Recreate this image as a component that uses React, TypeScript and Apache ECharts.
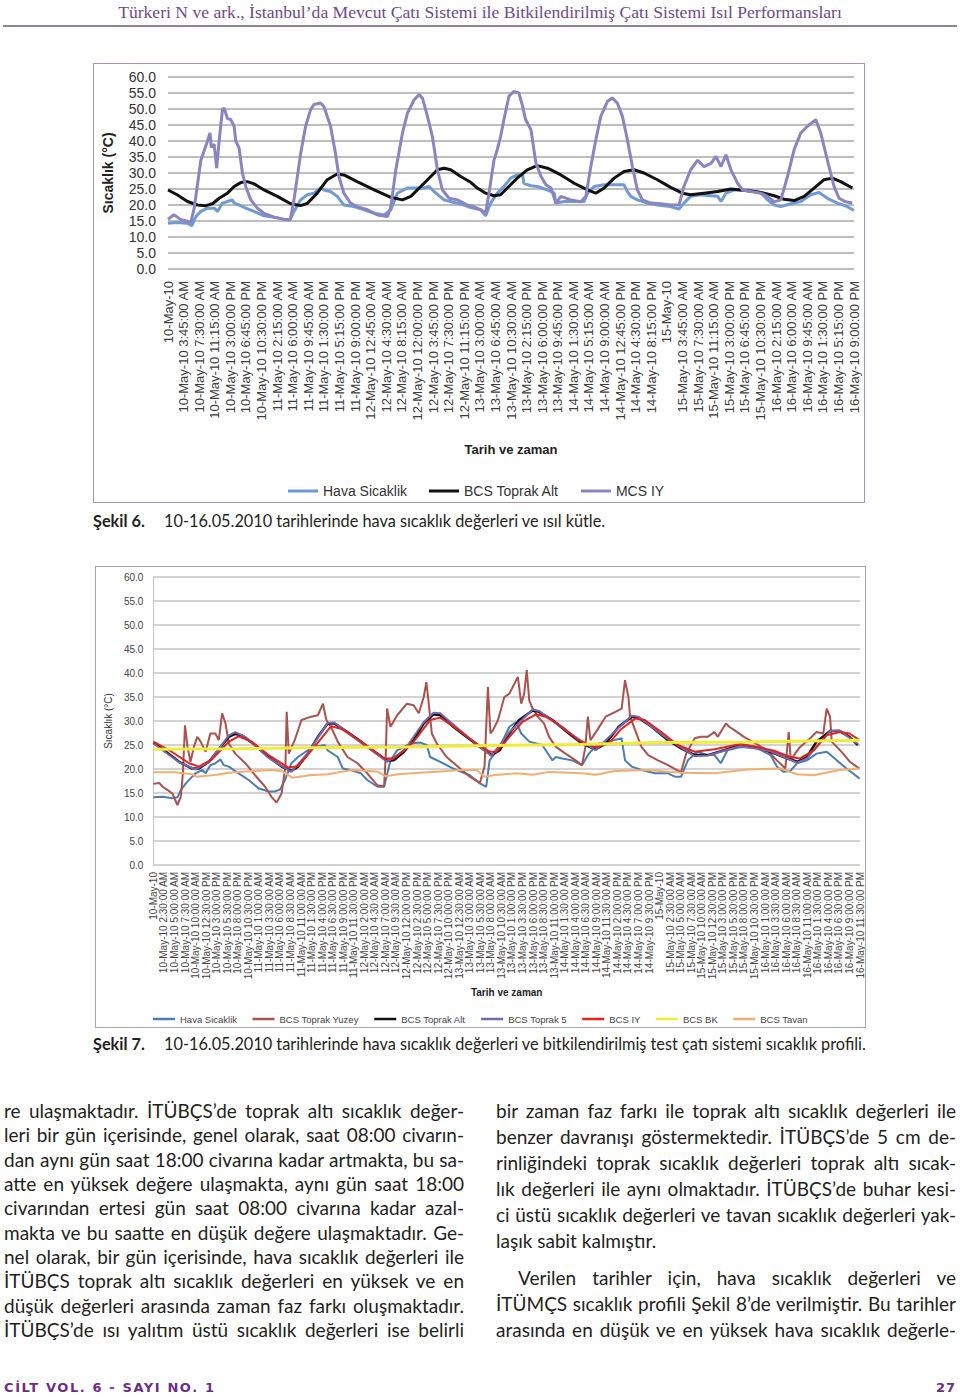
import React, { useEffect, useRef } from "react";
import * as echarts from "echarts";

// ---------- page text ----------
const HEADER_TEXT =
  "Türkeri N ve ark., İstanbul’da Mevcut Çatı Sistemi ile Bitkilendirilmiş Çatı Sistemi Isıl Performansları";
const CAPTION_6_LABEL = "Şekil 6.";
const CAPTION_6_TEXT = "10-16.05.2010 tarihlerinde hava sıcaklık değerleri ve ısıl kütle.";
const CAPTION_7_LABEL = "Şekil 7.";
const CAPTION_7_TEXT =
  "10-16.05.2010 tarihlerinde hava sıcaklık değerleri ve bitkilendirilmiş test çatı sistemi sıcaklık profili.";
const LEFT_LINES = [
  "re ulaşmaktadır. İTÜBÇS’de toprak altı sıcaklık değer-",
  "leri bir gün içerisinde, genel olarak, saat 08:00 civarın-",
  "dan aynı gün saat 18:00 civarına kadar artmakta, bu sa-",
  "atte en yüksek değere ulaşmakta, aynı gün saat 18:00",
  "civarından ertesi gün saat 08:00 civarına kadar azal-",
  "makta ve bu saatte en düşük değere ulaşmaktadır. Ge-",
  "nel olarak, bir gün içerisinde, hava sıcaklık değerleri ile",
  "İTÜBÇS toprak altı sıcaklık değerleri en yüksek ve en",
  "düşük değerleri arasında zaman faz farkı oluşmaktadır.",
  "İTÜBÇS’de ısı yalıtım üstü sıcaklık değerleri ise belirli",
];
const RIGHT_PARA_1 = [
  "bir zaman faz farkı ile toprak altı sıcaklık değerleri ile",
  "benzer davranışı göstermektedir. İTÜBÇS’de 5 cm de-",
  "rinliğindeki toprak sıcaklık değerleri toprak altı sıcak-",
  "lık değerleri ile aynı olmaktadır. İTÜBÇS’de buhar kesi-",
  "ci üstü sıcaklık değerleri ve tavan sıcaklık değerleri yak-",
  "laşık sabit kalmıştır.",
];
const RIGHT_PARA_2 = [
  "Verilen tarihler için, hava sıcaklık değerleri ve",
  "İTÜMÇS sıcaklık profili Şekil 8’de verilmiştir. Bu tarihler",
  "arasında en düşük ve en yüksek hava sıcaklık değerle-",
];
const FOOTER_LEFT = "CİLT VOL. 6 - SAYI NO. 1";
const FOOTER_RIGHT = "27";

// ---------- chart texts ----------
const Y_NAME = "Sıcaklık (°C)";
const X_NAME = "Tarih ve zaman";
const SERIES_6 = ["Hava Sicaklik", "BCS Toprak Alt", "MCS IY"];
const SERIES_7 = [
  "Hava Sicaklik",
  "BCS Toprak Yuzey",
  "BCS Toprak Alt",
  "BCS Toprak 5",
  "BCS IY",
  "BCS BK",
  "BCS Tavan",
];

const TICKS_6 = [
  "10-May-10",
  "10-May-10 3:45:00 AM", "10-May-10 7:30:00 AM", "10-May-10 11:15:00 AM", "10-May-10 3:00:00 PM", "10-May-10 6:45:00 PM", "10-May-10 10:30:00 PM",
  "11-May-10 2:15:00 AM", "11-May-10 6:00:00 AM", "11-May-10 9:45:00 AM", "11-May-10 1:30:00 PM", "11-May-10 5:15:00 PM", "11-May-10 9:00:00 PM",
  "12-May-10 12:45:00 AM", "12-May-10 4:30:00 AM", "12-May-10 8:15:00 AM", "12-May-10 12:00:00 PM", "12-May-10 3:45:00 PM", "12-May-10 7:30:00 PM", "12-May-10 11:15:00 PM",
  "13-May-10 3:00:00 AM", "13-May-10 6:45:00 AM", "13-May-10 10:30:00 AM", "13-May-10 2:15:00 PM", "13-May-10 6:00:00 PM", "13-May-10 9:45:00 PM",
  "14-May-10 1:30:00 AM", "14-May-10 5:15:00 AM", "14-May-10 9:00:00 AM", "14-May-10 12:45:00 PM", "14-May-10 4:30:00 PM", "14-May-10 8:15:00 PM",
  "15-May-10",
  "15-May-10 3:45:00 AM", "15-May-10 7:30:00 AM", "15-May-10 11:15:00 AM", "15-May-10 3:00:00 PM", "15-May-10 6:45:00 PM", "15-May-10 10:30:00 PM",
  "16-May-10 2:15:00 AM", "16-May-10 6:00:00 AM", "16-May-10 9:45:00 AM", "16-May-10 1:30:00 PM", "16-May-10 5:15:00 PM", "16-May-10 9:00:00 PM",
];

const TICKS_7 = [
  "10-May-10", "10-May-10 2:30:00 AM", "10-May-10 5:00:00 AM", "10-May-10 7:30:00 AM", "10-May-10 10:00:00 AM", "10-May-10 12:30:00 PM", "10-May-10 3:00:00 PM", "10-May-10 5:30:00 PM", "10-May-10 8:00:00 PM", "10-May-10 10:30:00 PM",
  "11-May-10 1:00:00 AM", "11-May-10 3:30:00 AM", "11-May-10 6:00:00 AM", "11-May-10 8:30:00 AM", "11-May-10 11:00:00 AM", "11-May-10 1:30:00 PM", "11-May-10 4:00:00 PM", "11-May-10 6:30:00 PM", "11-May-10 9:00:00 PM", "11-May-10 11:30:00 PM",
  "12-May-10 2:00:00 AM", "12-May-10 4:30:00 AM", "12-May-10 7:00:00 AM", "12-May-10 9:30:00 AM", "12-May-10 12:00:00 PM", "12-May-10 2:30:00 PM", "12-May-10 5:00:00 PM", "12-May-10 7:30:00 PM", "12-May-10 10:00:00 PM",
  "13-May-10 12:30:00 AM", "13-May-10 3:00:00 AM", "13-May-10 5:30:00 AM", "13-May-10 8:00:00 AM", "13-May-10 10:30:00 AM", "13-May-10 1:00:00 PM", "13-May-10 3:30:00 PM", "13-May-10 6:00:00 PM", "13-May-10 8:30:00 PM", "13-May-10 11:00:00 PM",
  "14-May-10 1:30:00 AM", "14-May-10 4:00:00 AM", "14-May-10 6:30:00 AM", "14-May-10 9:00:00 AM", "14-May-10 11:30:00 AM", "14-May-10 2:00:00 PM", "14-May-10 4:30:00 PM", "14-May-10 7:00:00 PM", "14-May-10 9:30:00 PM",
  "15-May-10", "15-May-10 2:30:00 AM", "15-May-10 5:00:00 AM", "15-May-10 7:30:00 AM", "15-May-10 10:00:00 AM", "15-May-10 12:30:00 PM", "15-May-10 3:00:00 PM", "15-May-10 5:30:00 PM", "15-May-10 8:00:00 PM", "15-May-10 10:30:00 PM",
  "16-May-10 1:00:00 AM", "16-May-10 3:30:00 AM", "16-May-10 6:00:00 AM", "16-May-10 8:30:00 AM", "16-May-10 11:00:00 AM", "16-May-10 1:30:00 PM", "16-May-10 4:00:00 PM", "16-May-10 6:30:00 PM", "16-May-10 9:00:00 PM", "16-May-10 11:30:00 PM",
];

// hours since 10-May-10 00:00, temperature (°C)
const HOURS_6_MAX = 165;
const HOURS_7_MAX = 167.5;

// ---------- Şekil 6 data ----------
const hava6: [number, number][] = [
  [0, 14.3], [2.2, 14.5], [4.7, 14.3], [5.7, 13.5], [6.7, 16.4], [7.9, 18], [9.5, 19], [11.1, 19], [11.9, 18], [13.1, 20.6], [14.3, 21.1], [15.5, 21.6], [15.9, 20.6], [17.1, 20], [18.7, 19], [20.7, 18], [23.1, 16.6], [25.5, 16.2], [27.9, 15.5], [29.4, 15.5],
  [30.3, 18], [31.9, 21.6], [33.5, 23.2], [35.1, 23.7], [36.7, 25.3], [37.5, 24.7], [39.1, 24.2], [40.7, 22.7], [42.3, 20], [44.7, 19.5], [47.2, 18.5], [49.6, 17.4], [52, 16.9],
  [53.6, 18.5], [55.2, 23.7], [57.6, 25.3], [59.6, 25.3], [61.6, 25.3], [62.8, 25.8], [64, 24.2], [66.4, 21.6], [68.8, 20.8], [71.2, 20], [72.8, 19.2], [75.2, 18.5], [76.4, 16.6],
  [77.6, 20.6], [79.2, 23.7], [80.8, 25.8], [82.4, 28.4], [84, 29.4], [85.3, 29.4], [85.6, 26.8], [87.3, 26], [88.8, 25.8], [91.3, 24.7], [92.9, 23.7], [93.3, 20.6], [95.3, 21.1], [97.7, 21.1], [100.1, 21.1],
  [100.9, 23.7], [102.5, 25.8], [104.9, 26.3], [107.3, 26.3], [109.7, 26.3], [110.5, 24.2], [111.3, 22.7], [112.9, 21.6], [115.3, 20.6], [117.7, 20], [120.9, 19.5], [122.9, 18.7],
  [124.1, 20.6], [125.7, 22.7], [128.1, 23.2], [130.6, 22.9], [132.2, 22.7], [133, 21.1], [134.2, 23.7], [136.2, 24.7], [139.4, 24.7], [142.6, 23.9], [144.2, 21.6], [145.8, 20], [147.4, 19.5],
  [149.8, 20.4], [152.2, 21.1], [154.6, 23.2], [156.6, 23.9], [158.6, 22.1], [161, 20.6], [163.4, 19.5], [165, 18.3],
];

const toprakAlt6: [number, number][] = [
  [0, 24.7], [2.2, 23.2], [4.7, 21.1], [7.1, 20], [9.1, 19.8], [10.7, 20.4], [12.3, 22.1], [14.3, 23.7], [15.9, 25.8], [17.5, 27], [19.1, 27.3], [20.7, 26.6], [23.1, 24.7], [26.3, 22.7], [29.5, 20.4], [31.9, 19.8],
  [33.5, 20.5], [35.9, 23.7], [38.3, 27.9], [40.7, 29.7], [42.3, 29.4], [45.5, 27.3], [49.6, 24.7], [53.6, 22.4], [56.4, 21.6], [58.4, 22.7], [61.6, 26.8], [64.8, 31], [66.4, 31.5], [68, 31], [70.4, 28.9],
  [72.8, 27.1], [74.4, 25.3], [76.4, 23.7], [78.4, 22.9], [80, 23.2], [81.6, 25.3], [84, 28.4], [86.4, 31], [88.8, 32.3], [91.3, 31.5], [94.5, 29.4], [97.7, 26.8], [100.9, 24.7], [102.9, 23.7],
  [104.9, 25.3], [107.3, 28.4], [109.7, 30.5], [112.1, 31], [114.5, 30], [117.7, 27.9], [120.9, 25.5], [123.7, 23.7], [125.7, 23.2], [128.9, 23.7], [132.2, 24.2], [135.4, 25], [137.8, 24.7],
  [141, 24.2], [143.4, 23.7], [145.8, 22.9], [148.2, 21.8], [150.6, 21.4], [153, 22.7], [155.4, 25.3], [157.8, 27.9], [159.8, 28.4], [161.8, 27.3], [164.6, 25.3],
];

const mcsIY6: [number, number][] = [
  [0, 15.5], [1.4, 17], [3, 15.5], [5.5, 14.6], [6.3, 19], [7.9, 34], [9.5, 40], [10.1, 42.5], [10.4, 38], [11.1, 39], [11.7, 31.5], [12.3, 40], [13.1, 49.8], [13.5, 50.3], [14.3, 47], [15.1, 46.7], [15.9, 44.6],
  [16.3, 40], [17.1, 37.8], [17.9, 30], [18.7, 25.8], [19.9, 21.6], [21.5, 19], [23.1, 17.4], [25.5, 16.2], [27.9, 15.5], [29.4, 15.3],
  [30.3, 21.6], [31.9, 36], [33.1, 44.6], [34.3, 49.8], [35.1, 51.4], [36.7, 51.9], [37.5, 50.8], [39.1, 44.6], [40.3, 36], [41.1, 28.9], [42.3, 23.7], [43.9, 20.6], [45.5, 19.5], [48, 18.5], [50.4, 16.9], [52.8, 16.4],
  [53.6, 19.5], [54.8, 31], [56.4, 42.5], [57.6, 48.7], [59.2, 52.9], [60.4, 54.5], [61.2, 53.4], [62.4, 47.7], [63.6, 41.4], [64.8, 31], [66, 24.7], [67.6, 22.1], [69.6, 21.6], [72, 20], [73.5, 19.5], [75.2, 18.5], [76.4, 17.4],
  [77.2, 23.7], [78.4, 34], [79.2, 37.3], [80, 41.4], [80.8, 46.7], [82, 54], [83.2, 55.5], [84.4, 55], [85.3, 50.8], [86, 46.7], [87.3, 43.5], [88.5, 33], [89.7, 29], [90.9, 26.3], [92.1, 25.3], [93.3, 20.6], [94.5, 22.7],
  [96.9, 21.6], [99.3, 21], [100.5, 22.7], [101.7, 32], [102.9, 40.4], [104.1, 47.7], [105.7, 52.4], [106.9, 53.4], [108.1, 51.8], [109.3, 47.7], [110.5, 40.4], [111.7, 32], [112.9, 24.7], [114.1, 21.6], [116.1, 20.6],
  [118.5, 20.4], [120.9, 20], [122.9, 20], [124.1, 25.8], [125.7, 31], [127.4, 34], [128.9, 32], [130.6, 33], [131.8, 35.2], [133, 32], [134.2, 35.7], [135.4, 31], [137, 26.8], [138.2, 24.7], [140.2, 24.2],
  [142.6, 23.7], [144.2, 22.7], [145.8, 21], [147.4, 21.6], [149, 28.9], [150.6, 37.3], [152.2, 42.5], [153.8, 44.6], [155.8, 46.7], [157, 42.5], [158.6, 34], [160.2, 25.8], [161.4, 22.1], [163, 21], [164.6, 20.6],
];

// ---------- Şekil 7 data ----------
const hava7: [number, number][] = [
  [0, 14.1], [2.2, 14.2], [4.5, 13.9], [5.7, 14.1], [6.5, 15.6], [7.7, 17], [9.2, 18.4], [10, 19.1], [11.6, 19.8], [12.4, 19.1], [13.5, 20.8], [14.7, 21.2], [15.9, 22], [16.7, 20.8], [17.9, 20.5], [20.2, 19.1],
  [22.6, 17.7], [24.9, 16], [27.3, 15.3], [28.8, 15.3], [30, 15.7], [31.2, 17.7], [32.7, 21.2], [34.3, 22.5], [36.6, 23.9], [38.2, 24.6], [40.6, 25], [41.3, 23.9], [43.7, 22.5], [44.9, 20.1], [46.8, 19.8],
  [49.2, 19.1], [50.7, 17.7], [53.1, 16.3], [54.7, 16.3], [56.2, 21.8], [57.8, 23.9], [59.4, 24.6], [60.9, 25.3], [63.3, 25.5], [64.8, 25], [65.6, 22.5], [68, 21.5], [71.1, 20.1], [75, 18.7], [77.4, 17],
  [78.9, 16.3], [79.7, 21.8], [82.1, 24.6], [84.4, 28.8], [86, 29.8], [87.2, 27.4], [89.1, 25.7], [92.2, 25], [93, 23.9], [94.6, 21.8], [95.4, 22.5], [96.9, 22.2], [99.3, 21.8], [101.6, 20.8], [103.2, 23.2],
  [105.5, 25.3], [107.9, 25.7], [111, 26.4], [111.8, 21.8], [113.4, 20.5], [115.7, 19.8], [118.9, 19.1], [122, 19.1], [123.6, 18.4], [125.1, 18.4], [126.7, 21.8], [129, 23.6], [131.4, 22.9], [133, 22.9],
  [134.5, 21.2], [136.1, 23.9], [139.2, 24.6], [143.2, 24.3], [146.3, 22.9], [147.8, 20.5], [149.4, 19.4], [151, 19.6], [152.6, 21.2], [154.9, 21.8], [157.2, 23.2], [159.6, 23.6], [162, 21.8], [164.3, 20.1],
  [165.8, 19.1], [167.4, 18],
];

const toprakYuzey7: [number, number][] = [
  [0, 16.9], [1.4, 17.1], [2.2, 16.3], [3.4, 15.6], [4.5, 14.9], [5.7, 12.5], [6.5, 14.2], [7, 19.1], [7.5, 29.1], [8.1, 24.6], [8.8, 21.5], [9.6, 24.6], [10.4, 26.7], [11.2, 25.7], [12.4, 23.6], [13.5, 27.4],
  [14.7, 27.4], [15.5, 26], [16.3, 31.6], [17.1, 29.5], [17.9, 25.3], [19.4, 23.2], [21.8, 21.2], [24.1, 18.7], [26.5, 16.3], [28, 14.2], [29.2, 13], [30.4, 14.9], [31.3, 20.5], [31.6, 31.9], [32.1, 23.2],
  [33.5, 26], [35.1, 30.2], [37.4, 30.9], [39, 31.2], [40.2, 33.6], [41, 30.2], [42.1, 28.8], [43.7, 25.7], [46, 22.5], [48.4, 21.2], [50.7, 19.1], [53.1, 16.6], [54.7, 16.4], [55.1, 23.2], [55.4, 32.6],
  [56.2, 28.8], [57.8, 31.2], [60.1, 33.6], [61.7, 33.3], [62.9, 31.6], [64.1, 35], [64.7, 38.1], [65.2, 34.3], [66, 27.4], [67.2, 25.3], [69.5, 22.5], [72.7, 20.1], [75, 18.4], [77.4, 17.1], [78.5, 20.5],
  [79.3, 37.1], [79.9, 27.4], [80.5, 28.1], [81.7, 30.2], [83.2, 35], [84.4, 35.7], [85.6, 37.8], [86.4, 39.2], [87.2, 33.6], [87.9, 35.7], [88.5, 40.6], [89.1, 34.3], [89.9, 32.6], [91.1, 30.9], [92.6, 29.5],
  [93.8, 26.7], [95.4, 24.6], [97.7, 23.2], [100.1, 21.8], [101.6, 20.8], [102.4, 24.6], [103, 30.9], [103.6, 26], [105.2, 28.1], [107.2, 30.9], [109.5, 31.9], [111, 32.6], [111.8, 38.5], [112.6, 35], [113, 30.9],
  [114.2, 28.1], [115.7, 24.6], [117.3, 22.9], [119.6, 21.8], [122, 20.8], [124, 19.8], [125.1, 19.4], [126.3, 23.2], [128.3, 26.4], [129.8, 26.7], [131.4, 26.7], [133, 27.7], [133.8, 26.7], [135.7, 29.5],
  [136.5, 28.8], [137.7, 28.1], [140, 26.7], [142.4, 25.5], [145.5, 23.9], [147.8, 21.8], [149.8, 20.1], [150.6, 27.7], [151.1, 21.8], [152.1, 23.2], [153.3, 24.6], [155.7, 26.4], [157.2, 27.7], [158.8, 27.4],
  [159.6, 32.6], [160.4, 30.9], [160.8, 25.7], [162, 24.6], [163.5, 23.2], [165.1, 21.5], [166.7, 20.5], [167.4, 20.1],
];

const toprakAlt7: [number, number][] = [
  [0, 25.5], [3, 23.6], [6.1, 21.5], [9.2, 20.1], [10.8, 20.1], [13.2, 21.5], [15.5, 24.1], [17.9, 26.7], [19.4, 27.3], [21, 27], [24.1, 25], [27.3, 22.5], [30.4, 20.5], [32.7, 19.6], [34.3, 20.5], [36.6, 23.2],
  [39, 26.7], [41.3, 29.5], [42.9, 29.5], [46, 27.7], [49.2, 25.7], [53.1, 23.2], [55.4, 21.7], [57, 21.8], [59.4, 23.6], [61.7, 26], [64.1, 29.5], [66.4, 31.4], [68, 31.2], [71.1, 28.8], [74.2, 26.7],
  [77.4, 24.6], [80.1, 22.9], [82.1, 23.9], [84.4, 27.4], [86.7, 30.2], [89.9, 32.2], [91.4, 31.9], [94.6, 30.2], [98.5, 27.4], [101.6, 25.3], [104.8, 24.1], [107.2, 25.3], [110.3, 28.8], [113.4, 30.9],
  [115, 30.7], [118.1, 28.8], [122, 26], [125.1, 24.3], [128.3, 22.9], [131.4, 22.9], [135.3, 23.9], [139.2, 25], [142.4, 24.6], [146.3, 23.6], [149.4, 22.5], [152.6, 21.5], [154.9, 22.5], [157.2, 25.7],
  [160.4, 27.9], [162.7, 27.9], [165, 26.7], [167, 25],
];

const toprak5_7: [number, number][] = [
  [0, 25.3], [6.1, 21.4], [10, 19.9], [13.2, 21.5], [17.9, 27], [19.4, 27.7], [21.8, 26.7], [27.3, 22.3], [32.7, 19.4], [36.6, 23.3], [41.3, 29.6], [42.9, 29.7], [49.2, 25.5], [55.4, 21.5], [59.4, 23.8],
  [64.1, 29.8], [66.4, 31.7], [68, 31.6], [74.2, 26.9], [79.7, 23], [80.1, 22.7], [84.4, 27.7], [89.9, 32.4], [91.4, 32.1], [98.5, 27.6], [104.8, 23.9], [110.3, 28.6], [113.4, 31.1], [115, 30.9], [122, 26.2],
  [128.3, 22.7], [131.4, 22.8], [139.2, 24.8], [146.3, 23.7], [152.6, 21.3], [154.9, 22.2], [160.4, 27.9], [162.7, 28], [167, 25.2],
];

const bcsIY7: [number, number][] = [
  [0, 25.7], [3.8, 23.9], [8.5, 21.2], [10.8, 20.5], [13.9, 22], [17.9, 25.7], [20.2, 26.8], [23.3, 25.7], [27.3, 22.9], [32, 20.3], [34.3, 20.6], [38.2, 24.6], [42.1, 28.9], [44.5, 28.4], [49.2, 25.7],
  [54.7, 22.2], [57, 22.2], [61.7, 25.7], [65.6, 30.2], [68, 30.7], [71.9, 28.4], [76.6, 25.3], [79.7, 23.6], [81.3, 23.6], [84.4, 26.7], [87.5, 29.8], [90.7, 31.4], [93, 30.9], [96.9, 28.8], [100.8, 26],
  [104.8, 24.5], [107.9, 25.3], [111, 28.4], [114.2, 30.5], [116.5, 30.2], [120.4, 27.7], [124.3, 25], [128.3, 23.6], [133, 24.1], [139.2, 25.2], [143.2, 24.6], [147.1, 23.8], [151, 22.5], [153.3, 22.2],
  [156.5, 23.9], [159.6, 27], [162.7, 27.7], [165, 27.4], [167.4, 26],
];

const bcsBK7: [number, number][] = [
  [0, 24.1], [20, 24.2], [41, 24.5], [60, 24.6], [80, 24.9], [100, 25.1], [120, 25.5], [140, 25.6], [167.5, 26.0],
];

const bcsTavan7: [number, number][] = [
  [0, 19.3], [5, 19.3], [9.2, 18.9], [10.3, 18.4], [15, 18.8], [17.9, 19.2], [22, 19.5], [28, 19.8], [30.4, 19.6], [33, 18.2], [37, 18.7], [41.3, 18.9], [47, 19.8], [53, 19.5], [55, 18.5], [58, 18.9],
  [63, 19.2], [68, 19.5], [73, 19.8], [76.6, 19.8], [78.5, 18.4], [80.5, 18.7], [86, 19.1], [89.9, 18.8], [93.8, 19.4], [101.6, 19.1], [104.8, 18.8], [109.5, 19.6], [117.3, 19.8], [125.1, 19.2], [133, 19.1],
  [140.8, 19.9], [148.6, 20.1], [152.6, 18.9], [156.5, 18.7], [162.7, 19.8], [167.4, 20.1],
];

const COLORS_6 = ["#6f9bd2", "#111111", "#8b84c0"];
const COLORS_7 = ["#4a7db6", "#a9524e", "#111111", "#7768ad", "#e3231f", "#f2ec35", "#f3ae6c"];

const FONT_CHART = "'Liberation Sans', Arial, sans-serif";

function yFmt(v: number) {
  return v.toFixed(1);
}

function option6(): any {
  const data = [hava6, toprakAlt6, mcsIY6];
  return {
    animation: false,
    textStyle: { fontFamily: FONT_CHART },
    grid: { left: 74, right: 12, top: 14, bottom: 235 },
    legend: {
      left: 190,
      top: 416,
      icon: "rect",
      itemWidth: 30,
      itemHeight: 3,
      itemGap: 22,
      textStyle: { fontSize: 14, color: "#333" },
      data: SERIES_6,
    },
    xAxis: [
      {
        type: "category",
        data: TICKS_6,
        boundaryGap: false,
        axisLine: { show: false },
        axisTick: { show: false },
        splitLine: { show: false },
        axisLabel: { interval: 0, rotate: 90, fontSize: 13, color: "#3c3c3c", margin: 12 },
        name: X_NAME,
        nameLocation: "middle",
        nameGap: 174,
        nameTextStyle: { fontSize: 13, fontWeight: "bold", color: "#222" },
      },
      { type: "value", min: 0, max: HOURS_6_MAX, show: false },
    ],
    yAxis: {
      type: "value",
      min: 0,
      max: 60,
      interval: 5,
      axisLine: { show: false },
      axisTick: { show: false },
      axisLabel: { formatter: yFmt, fontSize: 14, color: "#333", margin: 12 },
      splitLine: { lineStyle: { color: "#a9a9a9", width: 1.5 } },
      name: Y_NAME,
      nameLocation: "middle",
      nameGap: 53,
      nameTextStyle: { fontSize: 14, fontWeight: "bold", color: "#222" },
    },
    series: SERIES_6.map((name, i) => ({
      name,
      type: "line",
      xAxisIndex: 1,
      data: data[i],
      symbol: "none",
      showSymbol: false,
      lineStyle: { width: 3, color: COLORS_6[i] },
      itemStyle: { color: COLORS_6[i] },
    })),
  };
}

function option7(): any {
  const data = [hava7, toprakYuzey7, toprakAlt7, toprak5_7, bcsIY7, bcsBK7, bcsTavan7];
  const widths = [2, 2, 2.5, 2, 2, 3, 2];
  return {
    animation: false,
    textStyle: { fontFamily: FONT_CHART },
    grid: { left: 52, right: 7, top: 11, bottom: 164 },
    legend: {
      left: 53,
      top: 443,
      icon: "rect",
      itemWidth: 22,
      itemHeight: 2.5,
      itemGap: 15.5,
      textStyle: { fontSize: 9.5, color: "#444" },
      data: SERIES_7,
    },
    xAxis: [
      {
        type: "category",
        data: TICKS_7,
        boundaryGap: false,
        axisLine: { show: false },
        axisTick: { show: false },
        splitLine: { show: false },
        axisLabel: { interval: 0, rotate: 90, fontSize: 10, color: "#444", margin: 7 },
        name: X_NAME,
        nameLocation: "middle",
        nameGap: 121,
        nameTextStyle: { fontSize: 10, fontWeight: "bold", color: "#222" },
      },
      { type: "value", min: 0, max: HOURS_7_MAX, show: false },
    ],
    yAxis: {
      type: "value",
      min: 0,
      max: 60,
      interval: 5,
      axisLine: { show: true, lineStyle: { color: "#c4c4c4", width: 1 } },
      axisTick: { show: false },
      axisLabel: { formatter: yFmt, fontSize: 10, color: "#444", margin: 10 },
      splitLine: { lineStyle: { color: "#c4c4c4", width: 1.5 } },
      name: Y_NAME,
      nameLocation: "middle",
      nameGap: 38,
      nameTextStyle: { fontSize: 10, color: "#333" },
    },
    series: SERIES_7.map((name, i) => ({
      name,
      type: "line",
      xAxisIndex: 1,
      data: data[i],
      symbol: "none",
      showSymbol: false,
      lineStyle: { width: widths[i], color: COLORS_7[i] },
      itemStyle: { color: COLORS_7[i] },
    })),
  };
}

function EChart({ option, style }: { option: any; style: React.CSSProperties }) {
  const ref = useRef<HTMLDivElement>(null);
  useEffect(() => {
    const chart = echarts.init(ref.current!, null, { renderer: "svg" });
    chart.setOption(option);
    return () => chart.dispose();
  }, []);
  return <div ref={ref} style={style} />;
}

const BODY_FONT = "Lato, 'Open Sans', sans-serif";
const BODY_SIZE = 19;
const CAPTION_SIZE = 16.3;

function Line({ text, left, top, width, justify, indent }: { text: string; left: number; top: number; width: number; justify: boolean; indent?: number }) {
  return (
    <div
      style={{
        position: "absolute",
        left: left + (indent || 0),
        top,
        width: width - (indent || 0),
        height: 24,
        lineHeight: "24px",
        fontFamily: BODY_FONT,
        fontSize: BODY_SIZE,
        color: "#231f20",
        whiteSpace: "nowrap",
        textAlign: justify ? "justify" : "left",
        textAlignLast: justify ? "justify" : "left",
      }}
    >
      {text}
    </div>
  );
}

const captionStyle = (left: number, top: number): React.CSSProperties => ({
  position: "absolute",
  left,
  top,
  height: 22,
  lineHeight: "22px",
  fontFamily: BODY_FONT,
  fontSize: CAPTION_SIZE,
  color: "#231f20",
  whiteSpace: "nowrap",
});

const footerStyle: React.CSSProperties = {
  position: "absolute",
  top: 1380,
  height: 16,
  lineHeight: "16px",
  fontFamily: "'DejaVu Sans', sans-serif",
  fontSize: 13,
  fontWeight: "bold",
  letterSpacing: 1.6,
  color: "#6b2d88",
  whiteSpace: "nowrap",
};

export default function App() {
  const leftCenters = LEFT_LINES.map((_, i) => 1111 + i * 24.33);
  const right1Centers = RIGHT_PARA_1.map((_, i) => 1111 + i * 26);
  const right2Centers = RIGHT_PARA_2.map((_, i) => 1278 + i * 26);
  return (
    <div style={{ position: "absolute", left: 0, top: 0, width: 960, height: 1397, background: "#fff", overflow: "hidden" }}>
      {/* header */}
      <div
        style={{
          position: "absolute",
          left: 0,
          top: 0,
          width: 960,
          height: 24,
          lineHeight: "24px",
          textAlign: "center",
          fontFamily: "'Liberation Serif', 'DejaVu Serif', serif",
          fontSize: 17.6,
          color: "#6d4a8e",
          whiteSpace: "nowrap",
        }}
      >
        {HEADER_TEXT}
      </div>
      <div style={{ position: "absolute", left: 3, top: 25, width: 954, height: 2, background: "#8f829d" }} />

      {/* Şekil 6 */}
      <EChart option={option6()} style={{ position: "absolute", left: 93, top: 63, width: 773, height: 441 }} />
      <div style={{ position: "absolute", left: 93, top: 63, width: 770, height: 438, border: "1.5px solid #a892c2", pointerEvents: "none" }} />
      <div style={captionStyle(93, 510)}>
        <b>{CAPTION_6_LABEL}</b>
      </div>
      <div style={captionStyle(164, 510)}>{CAPTION_6_TEXT}</div>

      {/* Şekil 7 */}
      <EChart option={option7()} style={{ position: "absolute", left: 95, top: 566, width: 772, height: 463 }} />
      <div style={{ position: "absolute", left: 95, top: 566, width: 769, height: 460, border: "1.5px solid #a6a6a6", pointerEvents: "none" }} />
      <div style={captionStyle(93, 1033)}>
        <b>{CAPTION_7_LABEL}</b>
      </div>
      <div style={captionStyle(164, 1033)}>{CAPTION_7_TEXT}</div>

      {/* body text */}
      {LEFT_LINES.map((t, i) => (
        <Line key={"l" + i} text={t} left={4} top={leftCenters[i] - 12} width={460} justify={true} />
      ))}
      {RIGHT_PARA_1.map((t, i) => (
        <Line key={"r1" + i} text={t} left={496} top={right1Centers[i] - 12} width={460} justify={i < RIGHT_PARA_1.length - 1} />
      ))}
      {RIGHT_PARA_2.map((t, i) => (
        <Line key={"r2" + i} text={t} left={496} top={right2Centers[i] - 12} width={460} justify={true} indent={i === 0 ? 22 : 0} />
      ))}

      {/* footer */}
      <div style={{ ...footerStyle, left: 4 }}>{FOOTER_LEFT}</div>
      <div style={{ ...footerStyle, right: 4, letterSpacing: 1 }}>{FOOTER_RIGHT}</div>
    </div>
  );
}
